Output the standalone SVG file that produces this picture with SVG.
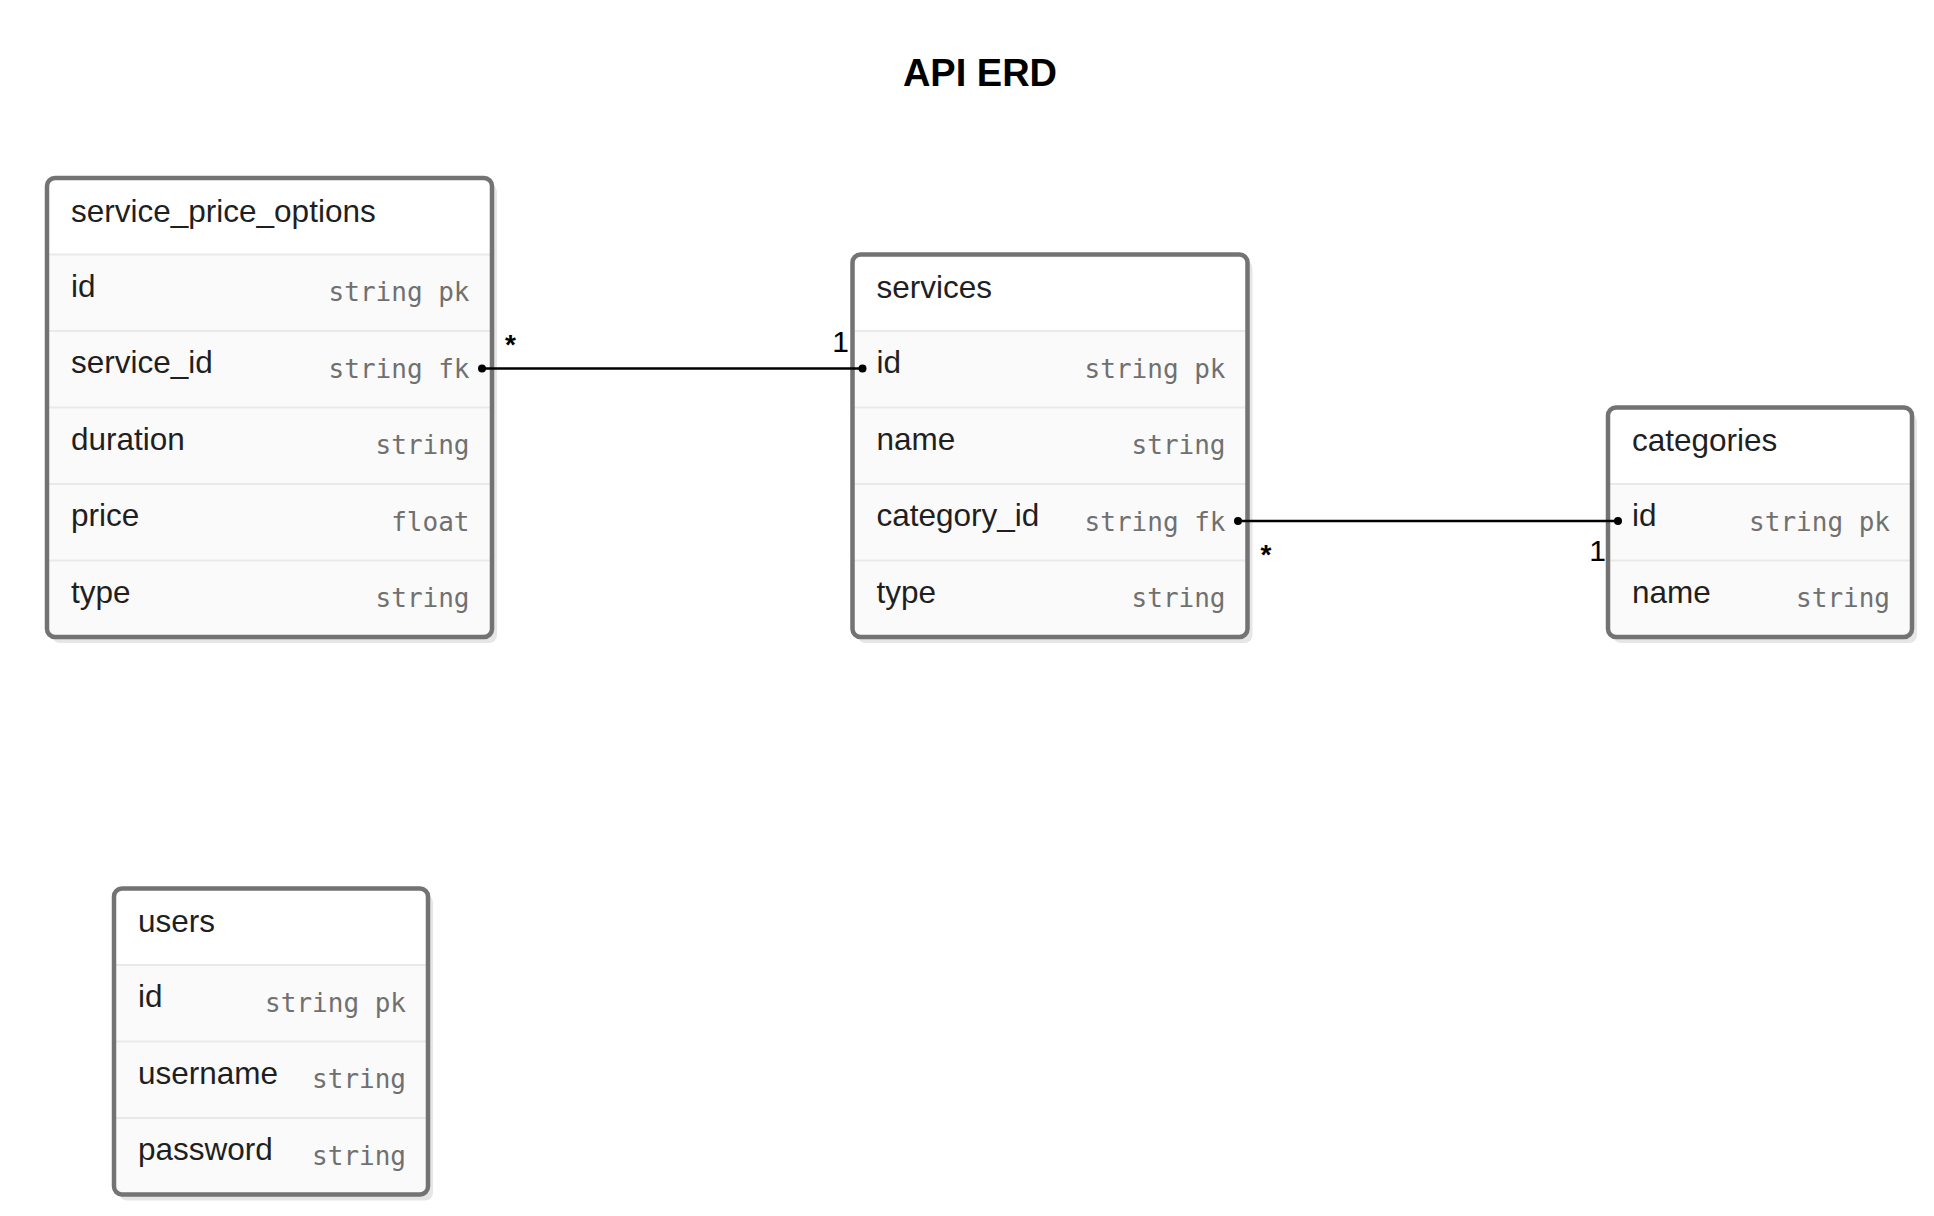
<svg xmlns="http://www.w3.org/2000/svg" width="1934" height="1216" viewBox="0 0 1934 1216">
<style>
.bg{fill:#ffffff}
.shadow{fill:#e6e6e6}
.body{fill:#fafafa}
.head{fill:#ffffff}
.frame{fill:none;stroke:#737373;stroke-width:4.5}
.sep{stroke:#e9e9e9;stroke-width:2}
.name{font-family:"Liberation Sans",Arial,sans-serif;font-size:31.5px;fill:#1f1f1f}
.type{font-family:"DejaVu Sans Mono","Liberation Mono",monospace;font-size:26px;fill:#707070;text-anchor:end}
.conn{stroke:#000000;stroke-width:2.5;fill:none}
.dot{fill:#000000}
.card{font-family:"Liberation Sans",Arial,sans-serif;font-size:28px;fill:#000000}
.one{font-family:"Liberation Sans",Arial,sans-serif;font-size:30px;fill:#000000;text-anchor:end}
.title{font-family:"Liberation Sans",Arial,sans-serif;font-size:38px;font-weight:bold;fill:#000000;text-anchor:middle}
</style>
<rect class="bg" x="0" y="0" width="1934" height="1216"/>
<text class="title" x="980" y="86">API ERD</text>

<g id="service_price_options">
  <rect class="shadow" x="52" y="184" width="445" height="459" rx="8"/>
  <rect class="body" x="47" y="178" width="445" height="459" rx="8"/>
  <path class="head" d="M47,254.5 V186 A8,8 0 0 1 55,178 H484 A8,8 0 0 1 492,186 V254.5 Z"/>
  <line class="sep" x1="47" y1="254.5" x2="492" y2="254.5"/>
  <line class="sep" x1="47" y1="331" x2="492" y2="331"/>
  <line class="sep" x1="47" y1="407.5" x2="492" y2="407.5"/>
  <line class="sep" x1="47" y1="484" x2="492" y2="484"/>
  <line class="sep" x1="47" y1="560.5" x2="492" y2="560.5"/>
  <rect class="frame" x="47" y="178" width="445" height="459" rx="8"/>
  <text class="name" x="71" y="222">service_price_options</text>
  <text class="name" x="71" y="296.5">id</text>
  <text class="type" x="469.5" y="301">string pk</text>
  <text class="name" x="71" y="373">service_id</text>
  <text class="type" x="469.5" y="377.5">string fk</text>
  <text class="name" x="71" y="449.5">duration</text>
  <text class="type" x="469.5" y="454">string</text>
  <text class="name" x="71" y="526">price</text>
  <text class="type" x="469.5" y="530.5">float</text>
  <text class="name" x="71" y="602.5">type</text>
  <text class="type" x="469.5" y="607">string</text>
</g>

<g id="services">
  <rect class="shadow" x="857.5" y="260.5" width="395" height="382.5" rx="8"/>
  <rect class="body" x="852.5" y="254.5" width="395" height="382.5" rx="8"/>
  <path class="head" d="M852.5,331 V262.5 A8,8 0 0 1 860.5,254.5 H1239.5 A8,8 0 0 1 1247.5,262.5 V331 Z"/>
  <line class="sep" x1="852.5" y1="331" x2="1247.5" y2="331"/>
  <line class="sep" x1="852.5" y1="407.5" x2="1247.5" y2="407.5"/>
  <line class="sep" x1="852.5" y1="484" x2="1247.5" y2="484"/>
  <line class="sep" x1="852.5" y1="560.5" x2="1247.5" y2="560.5"/>
  <rect class="frame" x="852.5" y="254.5" width="395" height="382.5" rx="8"/>
  <text class="name" x="876.5" y="297.5">services</text>
  <text class="name" x="876.5" y="373">id</text>
  <text class="type" x="1225.5" y="377.5">string pk</text>
  <text class="name" x="876.5" y="449.5">name</text>
  <text class="type" x="1225.5" y="454">string</text>
  <text class="name" x="876.5" y="526">category_id</text>
  <text class="type" x="1225.5" y="530.5">string fk</text>
  <text class="name" x="876.5" y="602.5">type</text>
  <text class="type" x="1225.5" y="607">string</text>
</g>

<g id="categories">
  <rect class="shadow" x="1613" y="413.5" width="304" height="229.5" rx="8"/>
  <rect class="body" x="1608" y="407.5" width="304" height="229.5" rx="8"/>
  <path class="head" d="M1608,484 V415.5 A8,8 0 0 1 1616,407.5 H1904 A8,8 0 0 1 1912,415.5 V484 Z"/>
  <line class="sep" x1="1608" y1="484" x2="1912" y2="484"/>
  <line class="sep" x1="1608" y1="560.5" x2="1912" y2="560.5"/>
  <rect class="frame" x="1608" y="407.5" width="304" height="229.5" rx="8"/>
  <text class="name" x="1632" y="450.5">categories</text>
  <text class="name" x="1632" y="526">id</text>
  <text class="type" x="1890" y="530.5">string pk</text>
  <text class="name" x="1632" y="602.5">name</text>
  <text class="type" x="1890" y="607">string</text>
</g>

<g id="users">
  <rect class="shadow" x="119" y="894.5" width="314" height="306" rx="8"/>
  <rect class="body" x="114" y="888.5" width="314" height="306" rx="8"/>
  <path class="head" d="M114,965 V896.5 A8,8 0 0 1 122,888.5 H420 A8,8 0 0 1 428,896.5 V965 Z"/>
  <line class="sep" x1="114" y1="965" x2="428" y2="965"/>
  <line class="sep" x1="114" y1="1041.5" x2="428" y2="1041.5"/>
  <line class="sep" x1="114" y1="1118" x2="428" y2="1118"/>
  <rect class="frame" x="114" y="888.5" width="314" height="306" rx="8"/>
  <text class="name" x="138" y="932">users</text>
  <text class="name" x="138" y="1007">id</text>
  <text class="type" x="406" y="1011.5">string pk</text>
  <text class="name" x="138" y="1083.5">username</text>
  <text class="type" x="406" y="1088">string</text>
  <text class="name" x="138" y="1160">password</text>
  <text class="type" x="406" y="1164.5">string</text>
</g>

<g id="connectors">
  <line class="conn" x1="482" y1="368.5" x2="862.5" y2="368.5"/>
  <circle class="dot" cx="482" cy="368.5" r="4"/>
  <circle class="dot" cx="862.5" cy="368.5" r="4"/>
  <text class="card" x="510.5" y="354" text-anchor="middle" font-weight="bold">*</text>
  <text class="one" x="849" y="352">1</text>

  <line class="conn" x1="1238" y1="521" x2="1618" y2="521"/>
  <circle class="dot" cx="1238" cy="521" r="4"/>
  <circle class="dot" cx="1618" cy="521" r="4"/>
  <text class="card" x="1266" y="564" text-anchor="middle" font-weight="bold">*</text>
  <text class="one" x="1606" y="560.5">1</text>
</g>
</svg>
